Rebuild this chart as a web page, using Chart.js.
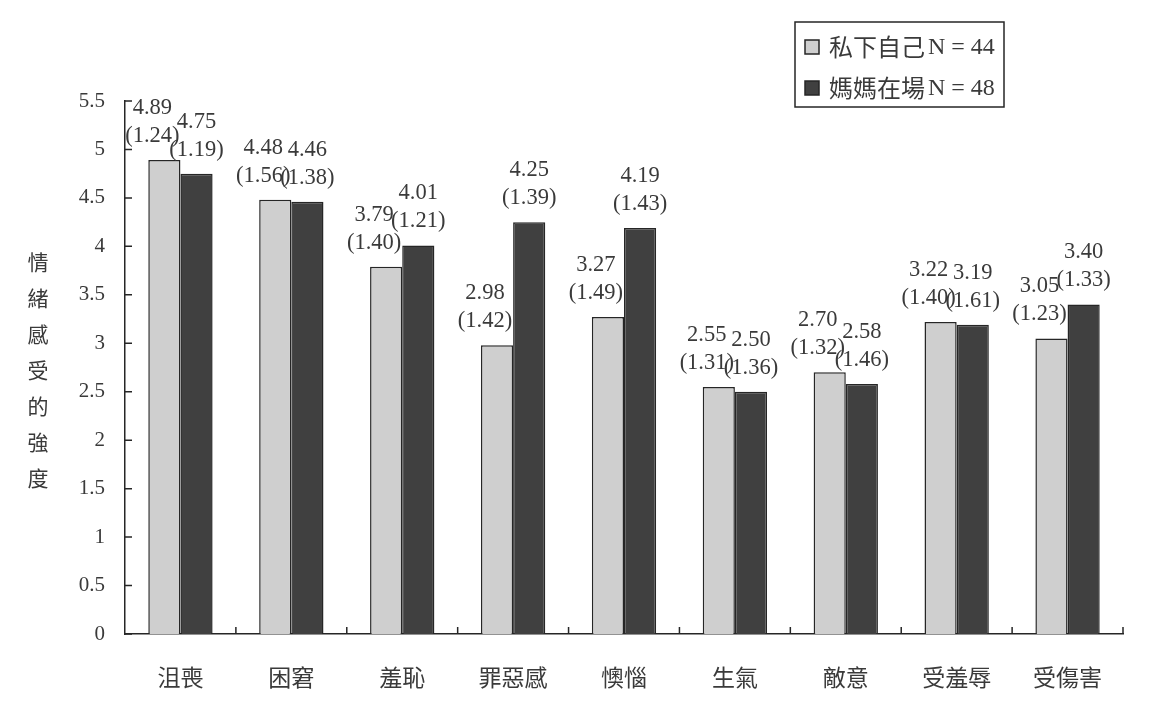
<!DOCTYPE html>
<html lang="zh-Hant">
<head>
    <meta charset="UTF-8">
    <title>情緒感受的強度</title>
    <script src="https://cdn.jsdelivr.net/npm/chart.js"></script>
    <style>
        html, body { margin: 0; padding: 0; background: #fff; }
        .chart-container { width: 1161px; height: 708px; }
    </style>
</head>
<body>
    <div class="chart-container">
        <canvas id="emotionChart"></canvas>
    </div>
    <script>
        // data
        const categories = ['沮喪', '困窘', '羞恥', '罪惡感', '懊惱', '生氣', '敵意', '受羞辱', '受傷害'];
        const seriesNames = ['私下自己 N = 44', '媽媽在場 N = 48'];
        const aloneMeans = [4.89, 4.48, 3.79, 2.98, 3.27, 2.55, 2.70, 3.22, 3.05];
        const aloneSD = [1.24, 1.56, 1.40, 1.42, 1.49, 1.31, 1.32, 1.40, 1.23];
        const motherMeans = [4.75, 4.46, 4.01, 4.25, 4.19, 2.50, 2.58, 3.19, 3.40];
        const motherSD = [1.19, 1.38, 1.21, 1.39, 1.43, 1.36, 1.46, 1.61, 1.33];
        const yTitle = '情緒感受的強度';

        const serifFont = '"Liberation Serif", "Noto Sans CJK TC", serif';
        const cjkFont = '"Noto Sans CJK TC", "Liberation Serif", serif';
        const lightFill = '#cfcfcf';
        const darkFill = '#404040';
        const lineColor = '#262626';
        const textColor = '#3a3a3a';

        // little inward tick marks on both axes
        const inwardTicks = {
            id: 'inwardTicks',
            afterDatasetsDraw(chart) {
                const ctx = chart.ctx;
                const x = chart.scales.x, y = chart.scales.y;
                const area = chart.chartArea;
                ctx.save();
                ctx.strokeStyle = lineColor;
                ctx.lineWidth = 1.5;
                ctx.beginPath();
                y.ticks.forEach(t => {
                    const py = y.getPixelForValue(t.value);
                    ctx.moveTo(area.left, py);
                    ctx.lineTo(area.left + 7, py);
                });
                const step = x.getPixelForValue(1) - x.getPixelForValue(0);
                for (let i = 0; i < categories.length; i++) {
                    const px = x.getPixelForValue(i) + step / 2;
                    ctx.moveTo(px, area.bottom);
                    ctx.lineTo(px, area.bottom - 7);
                }
                ctx.stroke();
                ctx.restore();
            }
        };

        // mean and (SD) above every bar
        const barLabels = {
            id: 'barLabels',
            afterDatasetsDraw(chart) {
                const ctx = chart.ctx;
                const sds = [aloneSD, motherSD];
                ctx.save();
                ctx.font = '22.5px ' + serifFont;
                ctx.fillStyle = textColor;
                ctx.textAlign = 'center';
                ctx.textBaseline = 'middle';
                chart.data.datasets.forEach((ds, d) => {
                    const meta = chart.getDatasetMeta(d);
                    meta.data.forEach((bar, i) => {
                        const cx = bar.x - (d === 0 ? 12 : 0);
                        ctx.fillText(ds.data[i].toFixed(2), cx, bar.y - 52);
                        ctx.fillText('(' + sds[d][i].toFixed(2) + ')', cx, bar.y - 24);
                    });
                });
                ctx.restore();
            }
        };

        // boxed legend in the top right, vertical title on the left
        const extras = {
            id: 'extras',
            afterDraw(chart) {
                const ctx = chart.ctx;
                ctx.save();
                ctx.strokeStyle = lineColor;
                ctx.lineWidth = 1.5;
                ctx.strokeRect(795, 22, 209, 85);
                const fills = [lightFill, darkFill];
                seriesNames.forEach((name, i) => {
                    const cy = 47 + i * 41;
                    ctx.fillStyle = fills[i];
                    ctx.fillRect(805, cy - 7, 14, 14);
                    ctx.strokeRect(805, cy - 7, 14, 14);
                    ctx.fillStyle = textColor;
                    ctx.textBaseline = 'middle';
                    ctx.textAlign = 'left';
                    const parts = name.split(' N');
                    ctx.font = '24px ' + cjkFont;
                    ctx.fillText(parts[0], 829, cy);
                    const w = ctx.measureText(parts[0]).width;
                    ctx.font = '24px ' + serifFont;
                    ctx.fillText('N' + parts[1], 829 + w + 3, cy + 1);
                });
                ctx.font = '21px ' + cjkFont;
                ctx.fillStyle = textColor;
                ctx.textAlign = 'center';
                ctx.textBaseline = 'middle';
                [...yTitle].forEach((ch, i) => {
                    ctx.fillText(ch, 38, 262 + i * 36);
                });
                ctx.restore();
            }
        };

        new Chart(document.getElementById('emotionChart').getContext('2d'), {
            type: 'bar',
            data: {
                labels: categories,
                datasets: [
                    {
                        label: seriesNames[0],
                        data: aloneMeans,
                        backgroundColor: lightFill,
                        borderColor: lineColor,
                        borderWidth: 1.5,
                        categoryPercentage: 0.58,
                        barPercentage: 1.0
                    },
                    {
                        label: seriesNames[1],
                        data: motherMeans,
                        backgroundColor: darkFill,
                        borderColor: lineColor,
                        borderWidth: 1.5,
                        categoryPercentage: 0.58,
                        barPercentage: 1.0
                    }
                ]
            },
            options: {
                responsive: true,
                maintainAspectRatio: false,
                animation: false,
                layout: { padding: { left: 0, right: 38, top: 101, bottom: 0 } },
                scales: {
                    x: {
                        grid: { display: false, drawTicks: false },
                        border: { display: true, color: lineColor, width: 1.5 },
                        ticks: { padding: 29, color: textColor, font: { family: cjkFont, size: 23 } },
                        afterFit: s => { s.height = 74; }
                    },
                    y: {
                        min: 0,
                        max: 5.5,
                        grid: { display: false, drawTicks: false },
                        border: { display: true, color: lineColor, width: 1.5 },
                        ticks: {
                            stepSize: 0.5,
                            padding: 20,
                            color: textColor,
                            font: { family: serifFont, size: 21 },
                            callback: v => String(v)
                        },
                        afterFit: s => { s.width = 125; }
                    }
                },
                plugins: {
                    legend: { display: false },
                    tooltip: { enabled: false }
                }
            },
            plugins: [inwardTicks, barLabels, extras]
        });
    </script>
</body>
</html>
